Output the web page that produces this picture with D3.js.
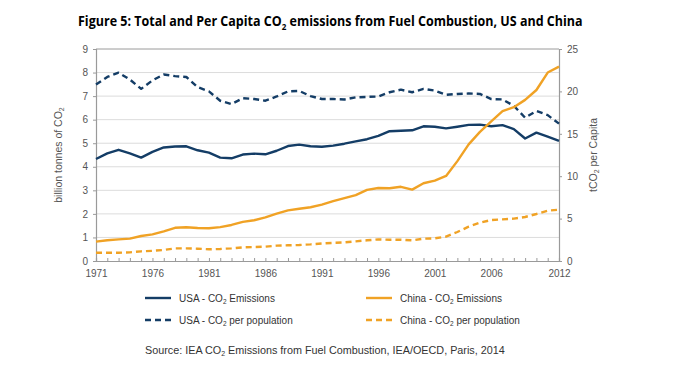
<!DOCTYPE html>
<html><head><meta charset="utf-8">
<script src="https://cdn.jsdelivr.net/npm/d3@7"></script>
<style>body{margin:0;background:#fff}svg{display:block}</style>
</head><body>
<svg id="c" width="676" height="373"></svg>
<script>
const years = d3.range(1971, 2013);
const usaTotal = [4.33,4.57,4.72,4.57,4.39,4.63,4.82,4.86,4.87,4.70,4.60,4.39,4.36,4.52,4.56,4.53,4.68,4.88,4.94,4.87,4.85,4.90,4.98,5.08,5.17,5.31,5.51,5.53,5.55,5.72,5.70,5.63,5.70,5.78,5.79,5.72,5.77,5.60,5.20,5.45,5.28,5.10];
const usaPerCap = [20.8,21.7,22.2,21.4,20.3,21.3,22.0,21.8,21.7,20.5,20.0,18.9,18.5,19.2,19.1,18.9,19.4,20.0,20.05,19.45,19.1,19.1,19.05,19.3,19.35,19.4,19.9,20.2,19.9,20.3,20.1,19.6,19.7,19.75,19.7,19.1,19.05,18.3,16.9,17.7,17.2,16.2];
const chinaTotal = [0.82,0.88,0.92,0.95,1.06,1.13,1.26,1.41,1.43,1.40,1.39,1.44,1.53,1.66,1.73,1.85,2.01,2.15,2.22,2.28,2.39,2.54,2.67,2.80,3.02,3.10,3.09,3.15,3.03,3.30,3.41,3.61,4.24,4.95,5.48,5.93,6.36,6.53,6.84,7.26,8.00,8.25];
const chinaPerCap = [0.98,0.98,0.98,1.02,1.14,1.20,1.30,1.49,1.49,1.45,1.38,1.42,1.49,1.61,1.65,1.69,1.81,1.85,1.89,1.96,2.06,2.14,2.20,2.32,2.44,2.55,2.51,2.51,2.44,2.63,2.67,2.87,3.42,4.05,4.52,4.83,4.91,5.00,5.19,5.54,5.93,6.05];
const leftTicks = d3.range(0, 10);
const rightTicks = [0,5,10,15,20,25];
const xTickLabels = [1971,1976,1981,1986,1991,1996,2001,2006,2012];

const NAVY = "#143d66", ORANGE = "#f0a225", GRAY = "#9a9a9a", TXT = "#555";
const svg = d3.select("#c");
const L = 96, R = 559, T = 49, B = 261;
const x = d3.scaleLinear().domain([1971, 2012]).range([L, R]);
const yL = d3.scaleLinear().domain([0, 9]).range([B, T]);
const yR = d3.scaleLinear().domain([0, 25]).range([B, T]);

// gridlines
svg.append("g").selectAll("line").data(leftTicks.filter(d => d > 0)).join("line")
  .attr("x1", L).attr("x2", R).attr("y1", d => yL(d)).attr("y2", d => yL(d))
  .attr("stroke", d => d === 9 ? GRAY : "#dcdcdc").attr("stroke-width", 1);

// left axis
const gL = svg.append("g").attr("transform", `translate(${L},0)`)
  .call(d3.axisLeft(yL).tickValues(leftTicks).tickSize(3).tickPadding(5).tickFormat(d3.format("d")));
// right axis
const gR = svg.append("g").attr("transform", `translate(${R},0)`)
  .call(d3.axisRight(yR).tickValues(rightTicks).tickSize(3).tickPadding(5));
// x axis (minor ticks inward every year)
const gX = svg.append("g").attr("transform", `translate(0,${B})`)
  .call(d3.axisBottom(x).tickValues(years).tickSize(-3).tickPadding(7)
    .tickFormat(d => xTickLabels.includes(d) ? d : ""));
[gL, gR, gX].forEach(g => {
  g.select(".domain").attr("stroke", GRAY).attr("stroke-width", 1.2);
  g.selectAll(".tick line").attr("stroke", GRAY);
  g.selectAll("text").attr("fill", TXT).attr("font-family", "Liberation Sans, Arial, sans-serif").attr("font-size", 10);
});
gX.selectAll(".tick text").attr("dy", "0.9em");

// lines
const lineL = d3.line().x((d, i) => x(years[i])).y(d => yL(d)).curve(d3.curveLinear);
const lineR = d3.line().x((d, i) => x(years[i])).y(d => yR(d)).curve(d3.curveLinear);
const series = [
  {data: usaPerCap, gen: lineR, color: NAVY, dash: "6,4"},
  {data: chinaPerCap, gen: lineR, color: ORANGE, dash: "6,4"},
  {data: usaTotal, gen: lineL, color: NAVY, dash: null},
  {data: chinaTotal, gen: lineL, color: ORANGE, dash: null},
];
series.forEach(s => {
  svg.append("path").attr("d", s.gen(s.data)).attr("fill", "none")
    .attr("stroke", s.color).attr("stroke-width", 2.4)
    .attr("stroke-dasharray", s.dash).attr("stroke-linejoin", "round");
});

// title (scaled horizontally to match the narrow original face)
const tg = svg.append("g");
const title = tg.append("text").attr("x", 0).attr("y", 0)
  .attr("font-family", "Open Sans, sans-serif").attr("font-weight", "bold")
  .attr("font-size", 14).attr("fill", "#000");
title.append("tspan").text("Figure 5: Total and Per Capita CO");
title.append("tspan").attr("font-size", 9).attr("dy", 4).text("2");
title.append("tspan").attr("dy", -4).text(" emissions from Fuel Combustion, US and China");
const tw = title.node().getBBox().width;
tg.attr("transform", `translate(78,26) scale(${505 / tw},1)`);

// axis titles
const ff = "Liberation Sans, Arial, sans-serif";
const lt = svg.append("text").attr("transform", `translate(62,155) rotate(-90)`)
  .attr("text-anchor", "middle").attr("font-family", ff).attr("font-size", 10.5).attr("fill", TXT);
lt.append("tspan").text("billion tonnes of CO");
lt.append("tspan").attr("font-size", 7).attr("dy", 2).text("2");
const rt = svg.append("text").attr("transform", `translate(597,155) rotate(-90)`)
  .attr("text-anchor", "middle").attr("font-family", ff).attr("font-size", 10.5).attr("fill", TXT);
rt.append("tspan").text("tCO");
rt.append("tspan").attr("font-size", 7).attr("dy", 2).text("2");
rt.append("tspan").attr("dy", -2).text(" per Capita");

// legend
const legend = [
  {name: "USA - CO", suf: " Emissions", color: NAVY, dash: null, lx: 145, ly: 298},
  {name: "USA - CO", suf: " per population", color: NAVY, dash: "6,4", lx: 145, ly: 320},
  {name: "China - CO", suf: " Emissions", color: ORANGE, dash: null, lx: 366, ly: 298},
  {name: "China - CO", suf: " per population", color: ORANGE, dash: "6,4", lx: 366, ly: 320},
];
legend.forEach(d => {
  svg.append("line").attr("x1", d.lx).attr("x2", d.lx + 26).attr("y1", d.ly).attr("y2", d.ly)
    .attr("stroke", d.color).attr("stroke-width", 2.4).attr("stroke-dasharray", d.dash);
  const t = svg.append("text").attr("x", d.lx + 34).attr("y", d.ly + 3.5)
    .attr("font-family", ff).attr("font-size", 10).attr("fill", "#333");
  t.append("tspan").text(d.name);
  t.append("tspan").attr("font-size", 6.5).attr("dy", 2).text("2");
  t.append("tspan").attr("dy", -2).text(d.suf);
});

// source
const src = svg.append("text").attr("x", 145).attr("y", 354)
  .attr("font-family", ff).attr("font-size", 10.8).attr("fill", "#333");
src.append("tspan").text("Source: IEA CO");
src.append("tspan").attr("font-size", 7).attr("dy", 2).text("2");
src.append("tspan").attr("dy", -2).text(" Emissions from Fuel Combustion, IEA/OECD, Paris, 2014");
</script>
</body></html>
